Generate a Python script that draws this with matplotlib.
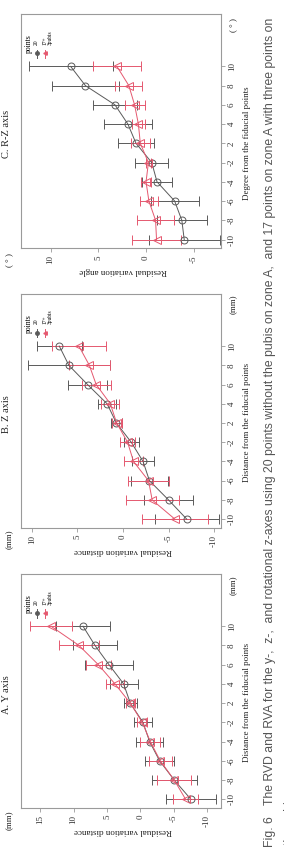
import numpy as np
import matplotlib
matplotlib.use('Agg')
from matplotlib import pyplot as plt

plt.rcParams['font.family'] = ['Liberation Serif', 'DejaVu Serif']

# distance categories (no zero)
dist_labels = ['-10', '-8', '-6', '-4', '-2', '2', '4', '6', '8', '10']

# A. Y axis
a20 = [-7.6, -5.1, -2.9, -1.4, -0.4, 1.5, 2.5, 4.7, 6.8, 8.6]
a20_err = [3.7, 3.4, 2.2, 2.0, 1.35, 1.0, 2.1, 3.6, 3.25, 4.0]
a17 = [-6.8, -5.1, -3.0, -1.5, -0.3, 1.5, 3.8, 6.3, 9.2, 13.4]
a17_err = [1.9, 2.55, 1.7, 1.5, 0.75, 0.65, 1.3, 1.9, 3.05, 3.2]

# B. Z axis
b20 = [-7.0, -5.0, -2.9, -2.2, -0.9, 0.73, 1.75, 3.9, 5.95, 7.0]
b20_err = [3.5, 2.7, 2.0, 1.2, 0.8, 0.6, 0.95, 2.1, 4.5, 2.5]
b17 = [-5.7, -3.2, -2.8, -1.15, -0.5, 0.7, 1.4, 2.95, 3.7, 4.85]
b17_err = [3.6, 2.9, 2.3, 1.0, 0.8, 0.55, 1.0, 1.6, 2.25, 3.0]

# C. R-Z axis
c20 = [-4.0, -3.75, -3.0, -1.15, -0.6, 1.05, 1.9, 3.25, 6.35, 7.9]
c20_err = [3.7, 2.6, 2.5, 1.6, 1.75, 1.85, 2.5, 2.35, 3.55, 4.4]
c17 = [-1.1, -1.0, -0.3, 0.0, -0.25, 0.6, 0.8, 1.2, 1.8, 3.05]
c17_err = [2.6, 1.9, 0.95, 0.5, 0.3, 1.0, 0.7, 1.05, 1.4, 2.5]

gray = '#5a5a5a'
red = '#e5586f'
frame = '#9a9a9a'

fig = plt.figure(figsize=(2.84, 8.5), dpi=100)


def panel(bottom, v20, e20, v17, e17, lim, ticks, title, vlabel, dlabel, unit):
    ax = fig.add_axes([0.074, bottom, 0.704, 0.275])
    pos = np.arange(len(dist_labels))
    ax.errorbar(v20, pos, xerr=e20, color=gray, lw=0.7, marker='o', ms=5,
                mfc='none', mec=gray, mew=0.7, elinewidth=0.7, capsize=3.5,
                capthick=0.7)
    ax.errorbar(v17, pos, xerr=e17, color=red, lw=0.7, marker='<', ms=6,
                mfc='none', mec=red, mew=0.7, elinewidth=0.7, capsize=3.5,
                capthick=0.7)
    ax.set_xlim(lim)
    ax.set_ylim(-0.45, 11.7)
    ax.set_xticks(ticks)
    ax.set_xticklabels([str(t) for t in ticks], rotation=90)
    ax.set_yticks(pos)
    ax.set_yticklabels(dist_labels, rotation=90, va='center')
    ax.yaxis.tick_right()
    ax.tick_params(axis='both', labelsize=6.5, colors='#333333', length=3,
                   width=0.6, pad=2)
    ax.tick_params(axis='both', color=frame)
    for s in ax.spines.values():
        s.set_color(frame)
        s.set_linewidth(0.8)
    tr = ax.transAxes
    ax.text(-0.075, 0.487, title, rotation=90, ha='center', va='center',
            fontsize=7.5, transform=tr, color='#222222')
    ax.text(0.51, -0.098, vlabel, rotation=180, ha='center', va='center',
            fontsize=6.5, transform=tr, color='#222222')
    ax.text(1.13, 0.45, dlabel, rotation=90, ha='center', va='center',
            fontsize=6.5, transform=tr, color='#222222')
    ax.text(-0.055, -0.05, unit, rotation=90, ha='center', va='center',
            fontsize=6.5, transform=tr, color='#222222')
    ax.text(1.065, 0.955, unit, rotation=90, ha='center', va='center',
            fontsize=6.5, transform=tr, color='#222222')
    # legend drawn by hand, rotated like the rest
    ax.text(0.04, 0.835, 'points', rotation=90, ha='left', va='center',
            rotation_mode='anchor', fontsize=5.5, transform=tr)
    for xf, col, mk, lab in [(0.078, gray, 'o', '20'),
                              (0.118, red, '<', '17+\n3pubis')]:
        ax.plot([xf, xf], [0.815, 0.85], color=col, lw=0.7, transform=tr,
                clip_on=False)
        ax.plot([xf], [0.833], color=col, marker=mk, ms=2.5, transform=tr,
                clip_on=False)
        ax.text(xf + (0.017 if '\n' in lab else 0), 0.87, lab, rotation=90,
                ha='left', va='center', rotation_mode='anchor', fontsize=4,
                linespacing=1.1, transform=tr)
    return ax


panel(0.0494, a20, a20_err, a17, a17_err, (17.9, -12.1), [15, 10, 5, 0, -5, -10],
      'A. Y axis', 'Residual variation distance',
      'Distance from the fiducial points', '(mm)')
panel(0.379, b20, b20_err, b17, b17_err, (11.2, -10.75), [10, 5, 0, -5, -10],
      'B. Z axis', 'Residual variation distance',
      'Distance from the fiducial points', '(mm)')
panel(0.708, c20, c20_err, c17, c17_err, (13.1, -7.85), [10, 5, 0, -5],
      'C. R-Z axis', 'Residual variation angle',
      'Degree from the fiducial points', '( ° )')

cap_font = ['Liberation Sans', 'DejaVu Sans']
fig.text(0.951, 1 - 847 / 850, 'Fig. 6', rotation=90, ha='left', va='center',
         rotation_mode='anchor', fontsize=8.8, color='#555555', family=cap_font)
fig.text(0.951, 1 - 805 / 850,
         'The RVD and RVA for the y-,  z-,  and rotational z-axes using 20 points '
         'without the pubis on zone A,  and 17 points on zone A with three points on',
         rotation=90, ha='left', va='center', rotation_mode='anchor',
         fontsize=8.8, color='#555555', family=cap_font)
# second caption line, mostly beyond the right edge as in the source crop
fig.text(1.02, 1 - 845 / 850, 'the pubis.', rotation=90, ha='left',
         va='center', rotation_mode='anchor', fontsize=8.8, color='#555555',
         family=cap_font)

fig.savefig('out.png', dpi=100)
